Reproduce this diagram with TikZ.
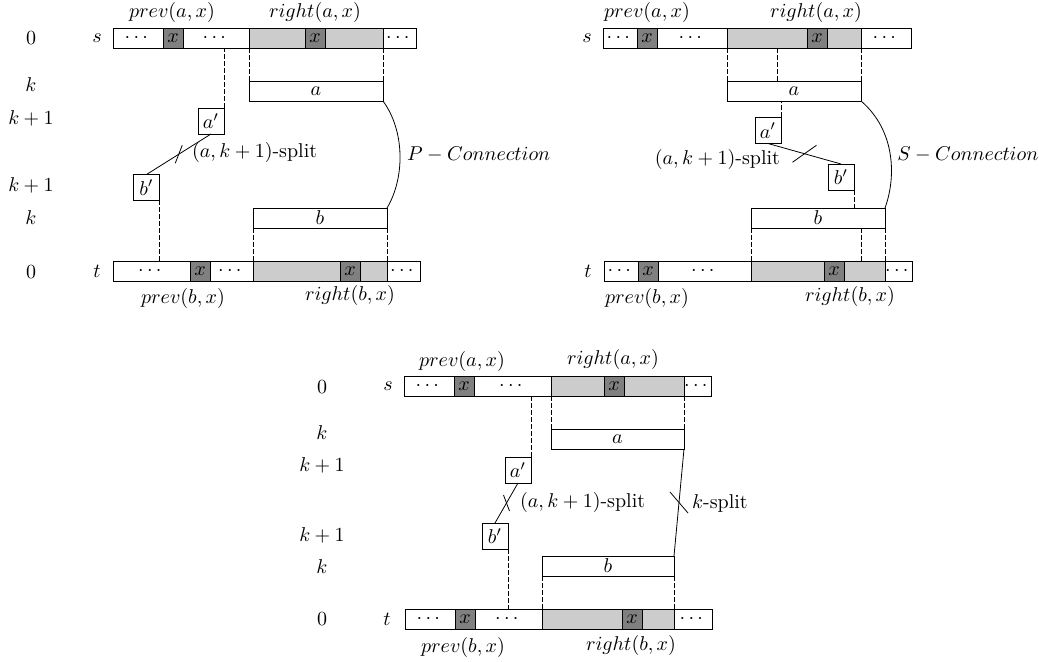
\documentclass[tikz,border=0pt]{standalone}
\usepackage{amsmath,amssymb}
\usepackage{tikz}

\begin{document}
\begin{tikzpicture}[x=0.5pt,y=-0.5pt,
  seg/.style={draw, fill=white, minimum width=#1*0.5pt, minimum height=10pt, inner sep=0pt, outer sep=0pt, anchor=west},
  gcell/.style={seg=#1, fill=black!20},
  xcell/.style={seg=20, fill=black!50},
  sbox/.style={draw, minimum size=13pt, inner sep=0pt, outer sep=0pt},
  link/.style={dash pattern=on 2.5pt off 1pt}]
\useasboundingbox (0,0) rectangle (1039,662);

% P-Connection
\node (pl1) at (31,38) {$0$};
\node (pl2) at (31,85) {$k$};
\node (pl3) at (31,118) {$k+1$};
\node (pl4) at (31,185) {$k+1$};
\node (pl5) at (31,218) {$k$};
\node (pl6) at (31,272) {$0$};

\node (ps) at (97,38) {$s$};
\node[seg=50] (ps1) at (113,38) {$\cdots$};
\node[xcell] (psx1) at (163,38) {$x$};
\node[seg=66] (ps2) at (183,38) {$\cdots$};
\node[gcell=134] (psR) at (249,38) {};
\node[xcell] (psx2) at (305,38) {$x$};
\node[seg=33] (ps3) at (383,38) {$\cdots$};
\node (pprevA) at (172,13) {$prev(a,x)$};
\node (prightA) at (315,13) {$right(a,x)$};

\node[seg=134] (pa) at (249,91) {$a$};
\node[sbox] (pa2) at (211,121) {$a'$};
\node[sbox] (pb2) at (146.5,187.5) {$b'$};
\node[seg=134] (pb) at (253,218) {$b$};

\node (pt) at (97,271) {$t$};
\node[seg=77] (pt1) at (113,271) {$\cdots$};
\node[xcell] (ptx1) at (190,271) {$x$};
\node[seg=43] (pt2) at (210,271) {$\cdots$};
\node[gcell=134] (ptR) at (253,271) {};
\node[xcell] (ptx2) at (340,271) {$x$};
\node[seg=33] (pt3) at (387,271) {$\cdots$};
\node (pprevB) at (183,299) {$prev(b,x)$};
\node (prightB) at (350,296) {$right(b,x)$};

\draw[link] (pa2.north east) -- (pa2.north east |- ps2.south);
\draw[link] (psR.south west) -- (pa.north west);
\draw[link] (psR.south east) -- (pa.north east);
\draw (pa2.south) -- coordinate (pmid) (pb2.north);
\draw ([shift={(-3.5,9)}]pmid) -- ([shift={(3.5,-9)}]pmid);
\node[anchor=west] (psplit) at (185,153) {$(a,k+1)$-split};
\draw[link] (pb2.south east) -- (pb2.south east |- pt1.north);
\draw[link] (pb.south west) -- (ptR.north west);
\draw[link] (pb.south east) -- (ptR.north east);
\draw (pa.south east) .. controls +(22,30) and +(18,-30) .. (pb.north east)
  node[midway, right] (pcon) {$P-Connection$};

% S-Connection
\node (qs) at (587,38) {$s$};
\node[seg=34] (qs1) at (603,38) {$\cdots$};
\node[xcell] (qsx1) at (637,38) {$x$};
\node[seg=70] (qs2) at (657,38) {$\cdots$};
\node[gcell=134] (qsR) at (727,38) {};
\node[xcell] (qsx2) at (807,38) {$x$};
\node[seg=50] (qs3) at (861,38) {$\cdots$};
\node (qprevA) at (647,13) {$prev(a,x)$};
\node (qrightA) at (816,13) {$right(a,x)$};

\node[seg=134] (qa) at (727,91) {$a$};
\node[sbox] (qa2) at (768,130.5) {$a'$};
\node[sbox] (qb2) at (841,177) {$b'$};
\node[seg=134] (qb) at (751,218) {$b$};

\node (qt) at (588,271) {$t$};
\node[seg=34] (qt1) at (604,271) {$\cdots$};
\node[xcell] (qtx1) at (638,271) {$x$};
\node[seg=93] (qt2) at (658,271) {$\cdots$};
\node[gcell=134] (qtR) at (751,271) {};
\node[xcell] (qtx2) at (824,271) {$x$};
\node[seg=27] (qt3) at (885,271) {$\cdots$};
\node (qprevB) at (647,299) {$prev(b,x)$};
\node (qrightB) at (850,297) {$right(b,x)$};

\coordinate (qm) at (777,0);
\draw[link] (qsR.south west) -- (qa.north west);
\draw[link] (qm |- qsR.south) -- (qm |- qa.north);
\draw[link] (qsR.south east) -- (qa.north east);
\draw[link] (qa2.north east) -- (qa2.north east |- qa.south);
\draw (qa2.south) -- coordinate (qmid) (qb2.north);
\draw ([shift={(-12,8.5)}]qmid) -- ([shift={(12,-8.5)}]qmid);
\node[anchor=east] (qsplit) at (787,160) {$(a,k+1)$-split};
\draw[link] (qb2.south east) -- (qb2.south east |- qb.north);
\draw[link] (qb.south west) -- (qtR.north west);
\draw[link] (qa.south east |- qb.south) -- (qa.south east |- qtR.north);
\draw[link] (qb.south east) -- (qtR.north east);
\draw (qa.south east) .. controls +(35,30) and +(11,-30) .. (qb.north east)
  node[midway, right] (qcon) {$S-Connection$};

% k-split
\node (kl1) at (322,387) {$0$};
\node (kl2) at (322,433) {$k$};
\node (kl3) at (322,465) {$k+1$};
\node (kl4) at (322,535) {$k+1$};
\node (kl5) at (322,567) {$k$};
\node (kl6) at (322,619) {$0$};

\node (ks) at (388,386) {$s$};
\node[seg=50] (ks1) at (404,386) {$\cdots$};
\node[xcell] (ksx1) at (454,386) {$x$};
\node[seg=77] (ks2) at (474,386) {$\cdots$};
\node[gcell=133] (ksR) at (551,386) {};
\node[xcell] (ksx2) at (604,386) {$x$};
\node[seg=27] (ks3) at (684,386) {$\cdots$};
\node (kprevA) at (462,362) {$prev(a,x)$};
\node (krightA) at (613,360) {$right(a,x)$};

\node[seg=133] (ka) at (551,439) {$a$};
\node[sbox] (ka2) at (518,470) {$a'$};
\node[sbox] (kb2) at (495,536) {$b'$};
\node[seg=132] (kb) at (542,566) {$b$};

\node (kt) at (387,619) {$t$};
\node[seg=50] (kt1) at (405,619) {$\cdots$};
\node[xcell] (ktx1) at (455,619) {$x$};
\node[seg=67] (kt2) at (475,619) {$\cdots$};
\node[gcell=132] (ktR) at (542,619) {};
\node[xcell] (ktx2) at (622,619) {$x$};
\node[seg=38] (kt3) at (674,619) {$\cdots$};
\node (kprevB) at (463,647) {$prev(b,x)$};
\node (krightB) at (631,645) {$right(b,x)$};

\draw[link] (ka2.north east) -- (ka2.north east |- ks2.south);
\draw[link] (ksR.south west) -- (ka.north west);
\draw[link] (ksR.south east) -- (ka.north east);
\draw (ka2.south) -- coordinate (kmid1) (kb2.north);
\draw ([shift={(-3,-8)}]kmid1) -- ([shift={(3,8)}]kmid1);
\node[anchor=west] (ksplit1) at (513,503) {$(a,k+1)$-split};
\draw[link] (kb2.south east) -- (kb2.south east |- kt2.north);
\draw[link] (kb.south west) -- (ktR.north west);
\draw[link] (kb.south east) -- (ktR.north east);
\draw (ka.south east) -- coordinate (kmid2) (kb.north east);
\draw ([shift={(-9,-10.5)}]kmid2) -- ([shift={(9,10.5)}]kmid2);
\node[anchor=west] (ksplit2) at (685,503) {$k$-split};
\end{tikzpicture}
\end{document}
